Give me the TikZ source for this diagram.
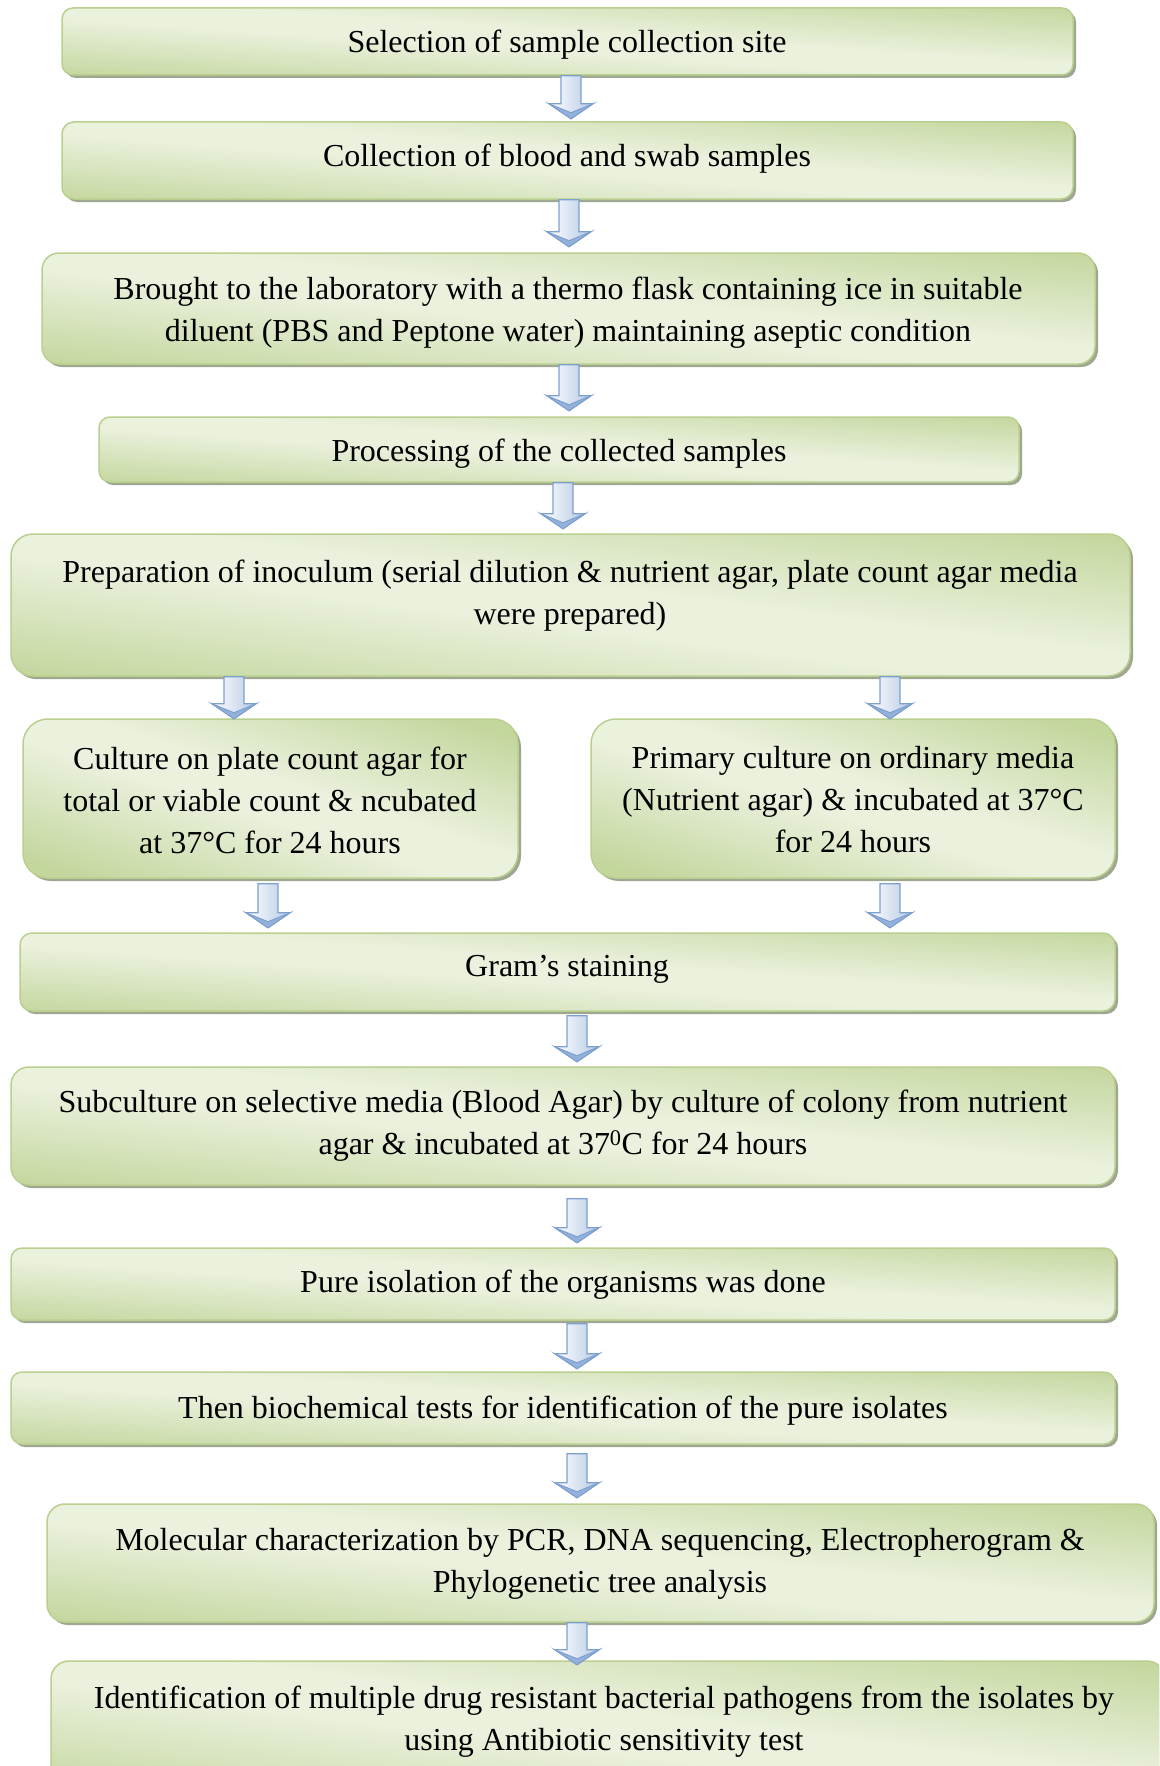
\documentclass[tikz,border=0pt]{standalone}
\usepackage{fontspec}
\setmainfont{Liberation Serif}
\usetikzlibrary{shadows,calc}
\definecolor{gdark}{HTML}{C3D69C}
\definecolor{glight}{HTML}{EAF1DD}
\definecolor{gborder}{HTML}{BACF8F}
\definecolor{gshadow}{HTML}{9EA78F}
\definecolor{aline}{HTML}{7EA0CF}
\definecolor{afill}{HTML}{B4C9E4}
\definecolor{abevel}{HTML}{93B1DA}
\pgfdeclareverticalshading{boxshade}{100bp}{color(0bp)=(gdark); color(22bp)=(gdark); color(46bp)=(glight); color(54bp)=(glight); color(78bp)=(gdark); color(100bp)=(gdark)}
\tikzset{
  flowbox/.style={draw=gborder, line width=1.5pt, rounded corners=#1,
    shading=boxshade,
    drop shadow={shadow xshift=3pt, shadow yshift=-3pt, fill=gshadow, opacity=1}},
  txt/.style={font=\fontsize{32}{42}\selectfont, align=center, inner sep=0pt},
  arrowbody/.style={draw=aline, line width=1.2pt, left color=white, right color=afill},
  arrowbevel/.style={draw=aline, line width=1pt, fill=abevel},
  pics/barrow/.style={code={
    \path[arrowbody] (-10,0) -- (10,0) -- (10,#1-15) -- (22,#1-15) -- (0,#1) -- (-22,#1-15) -- (-10,#1-15) -- cycle;
    \path[arrowbevel] (-22,#1-15) -- (0,#1) -- (22,#1-15) -- (0,#1-6) -- cycle;
  }}
}
\newcommand{\mkbox}[6]{%
  \pgfmathsetmacro\boxang{-atan((#5-#3)/(#4-#2))}%
  \node[flowbox=#6, shading angle=\boxang, minimum width={#4-#2}, minimum height={#5-#3}, inner sep=0pt] (#1) at ({(#2+#4)/2},{(#3+#5)/2}) {};}
\begin{document}
\begin{tikzpicture}[x=1pt, y=-1pt]
\useasboundingbox (0,0) rectangle (1159,1766);
\clip (0,0) rectangle (1159,1766);
% boxes
\mkbox{b1}{62}{8}{1073}{75}{11}
\mkbox{b2}{62}{122}{1073}{199}{12}
\mkbox{b3}{42}{253}{1095}{364}{17}
\mkbox{b4}{99}{417}{1019}{482}{11}
\mkbox{b5}{11}{534}{1130}{676}{22}
\mkbox{b6}{23}{719}{518}{878}{25}
\mkbox{b7}{591}{719}{1115}{878}{25}
\mkbox{b8}{20}{933}{1115}{1011}{12}
\mkbox{b9}{11}{1067}{1115}{1185}{18}
\mkbox{b10}{11}{1248}{1115}{1320}{11}
\mkbox{b11}{11}{1372}{1115}{1444}{11}
\mkbox{b12}{47}{1504}{1154}{1622}{18}
\mkbox{b13}{51}{1661}{1165}{1800}{18}
% texts
\node[txt] (t1) at (567,45) {Selection of sample collection site};
\node[txt] (t2) at (567,159) {Collection of blood and swab samples};
\node[txt] (t3) at (568,313) {Brought to the laboratory with a thermo flask containing ice in suitable\\diluent (PBS and Peptone water) maintaining aseptic condition};
\node[txt] (t4) at (559,454) {Processing of the collected samples};
\node[txt] (t5) at (570,596) {Preparation of inoculum (serial dilution \& nutrient agar, plate count agar media\\were prepared)};
\node[txt] (t6) at (270,800) {Culture on plate count agar for\\total or viable count \& ncubated\\at 37°C for 24 hours};
\node[txt] (t7) at (853,800) {Primary culture on ordinary media\\(Nutrient agar) \& incubated at 37°C\\for 24 hours};
\node[txt] (t8) at (567,969) {Gram’s staining};
\node[txt] (t9) at (563,1126) {Subculture on selective media (Blood Agar) by culture of colony from nutrient\\agar \& incubated at 37\textsuperscript{0}C for 24 hours};
\node[txt] (t10) at (563,1285) {Pure isolation of the organisms was done};
\node[txt] (t11) at (563,1411) {Then biochemical tests for identification of the pure isolates};
\node[txt] (t12) at (600,1564) {Molecular characterization by PCR, DNA sequencing, Electropherogram \&\\Phylogenetic tree analysis};
\node[txt] (t13) at (604,1722) {Identification of multiple drug resistant bacterial pathogens from the isolates by\\using Antibiotic sensitivity test};
% block arrows
\coordinate (x1) at (571,0);
\pic at (x1 |- b1.south) {barrow=43};
\coordinate (x2) at (569,0);
\pic at (x2 |- b2.south) {barrow=47};
\pic at (x2 |- b3.south) {barrow=46};
\coordinate (x4) at (563,0);
\pic at (x4 |- b4.south) {barrow=46};
\coordinate (x5a) at (234,0);
\coordinate (x5b) at (890,0);
\pic at (x5a |- b5.south) {barrow=42};
\pic at (x5b |- b5.south) {barrow=42};
\coordinate (x6a) at (268,0);
\pic at ([yshift=-5pt]x6a |- b6.south) {barrow=44};
\pic at ([yshift=-5pt]x5b |- b7.south) {barrow=44};
\coordinate (x7) at (577,0);
\pic at ([yshift=-4pt]x7 |- b8.south) {barrow=46};
\pic at ([yshift=-13pt]x7 |- b9.south) {barrow=44};
\pic at ([yshift=-3pt]x7 |- b10.south) {barrow=45};
\pic at ([yshift=-9pt]x7 |- b11.south) {barrow=44};
\pic at (x7 |- b12.south) {barrow=42};
\end{tikzpicture}
\end{document}
